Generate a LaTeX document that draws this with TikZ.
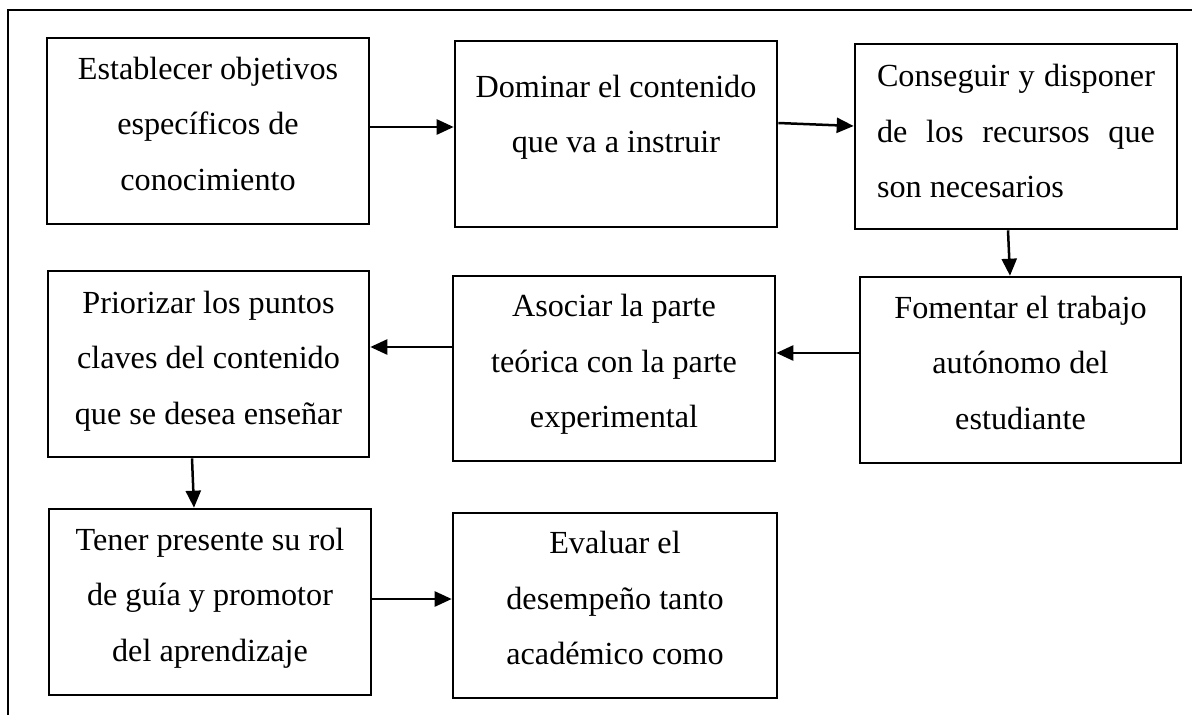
\documentclass[tikz,border=0pt]{standalone}
\usepackage{fontspec}
\setmainfont{Liberation Serif}
\usetikzlibrary{arrows.meta}
\newcommand{\lastfix}[1][40.5pt]{\\[-#1]\mbox{}}
\begin{document}
\begin{tikzpicture}[x=1pt,y=-1pt,
  box/.style={draw,line width=2.6pt,rectangle,minimum width=322pt,minimum height=186pt,
    inner sep=0pt,align=center,font=\fontsize{32.2}{55.5}\selectfont},
  arr/.style={line width=2.5pt,-{Triangle[length=17pt,width=15pt]}},
  frame/.style={line width=2.5pt}]
\useasboundingbox (0,0) rectangle (1192,715);
\coordinate (f1) at (8,715);
\coordinate (f2) at (8,10);
\coordinate (f3) at (1192,10);
\draw[frame] (f1) -- (f2) -- (f3);

\node[box] (b1) at (208,131) {Establecer objetivos\\específicos de\\conocimiento\lastfix};
\node[box] (b2) at (616,134) {Dominar el contenido\\que va a instruir\lastfix[15pt]};
\node[box,minimum height=185pt,align=left] (b3) at (1016,136.5)
  {\makebox[278pt][s]{Conseguir y disponer}\\\makebox[278pt][s]{de los recursos que}\\\makebox[278pt][l]{son necesarios}\lastfix[44.5pt]};
\node[box,minimum width=321pt] (b6) at (208.5,364) {Priorizar los puntos\\claves del contenido\\que se desea enseñar\lastfix[42.5pt]};
\node[box,minimum height=185pt] (b5) at (614,368.5) {Asociar la parte\\teórica con la parte\\experimental\lastfix};
\node[box,minimum width=321pt] (b4) at (1020.5,370) {Fomentar el trabajo\\autónomo del\\estudiante\lastfix};
\node[box] (b7) at (210,602) {Tener presente su rol\\de guía y promotor\\del aprendizaje\lastfix};
\node[box,minimum width=324pt,minimum height=185pt] (b8) at (615,605.5) {Evaluar el\\desempeño tanto\\académico como\lastfix};

\draw[arr] ([yshift=4pt]b1.east) -- ([yshift=7pt]b2.west);
\draw[arr] ([yshift=11pt]b2.east) -- ([yshift=10.5pt]b3.west);
\draw[arr] ([xshift=-8pt]b3.south) -- ([xshift=-10.5pt]b4.north);
\draw[arr] ([yshift=17pt]b4.west) -- ([yshift=15.5pt]b5.east);
\draw[arr] ([yshift=21.5pt]b5.west) -- ([yshift=17pt]b6.east);
\draw[arr] ([xshift=-16.5pt]b6.south) -- ([xshift=-16pt]b7.north);
\draw[arr] ([yshift=3pt]b7.east) -- ([yshift=6.5pt]b8.west);
\end{tikzpicture}
\end{document}
